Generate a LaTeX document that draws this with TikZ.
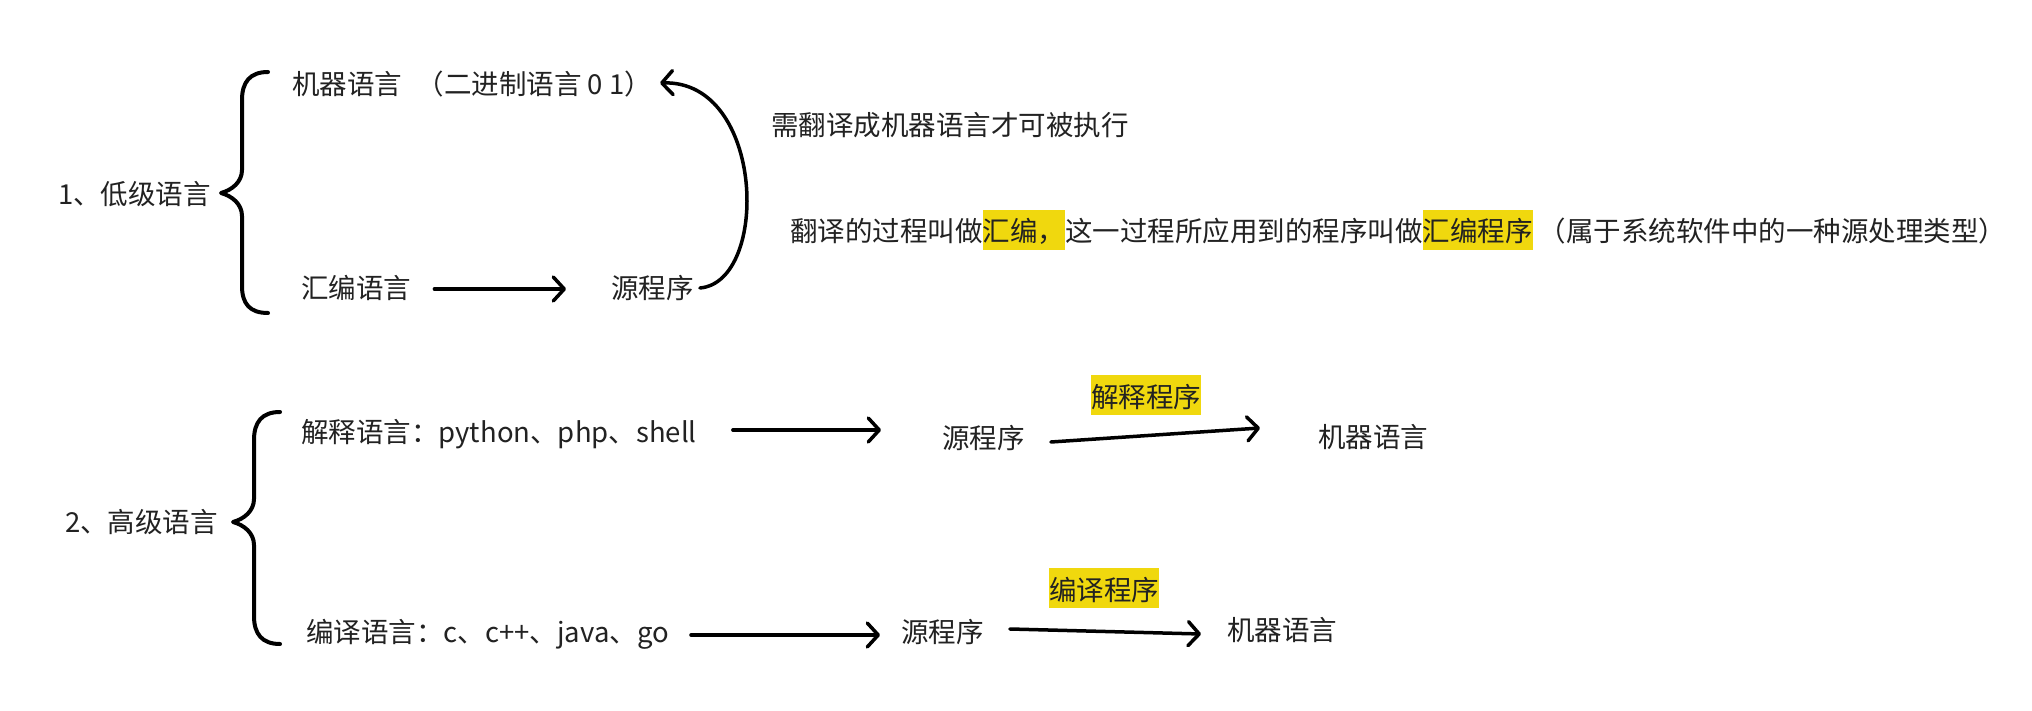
\documentclass[tikz,border=0pt]{standalone}
\usepackage{fontspec}
\setmainfont{Noto Sans CJK SC}
\usetikzlibrary{arrows.meta}
\definecolor{hly}{HTML}{F0D80E}
\definecolor{ink}{HTML}{222222}
\newcommand\hlbox[1]{{\setlength{\fboxsep}{0pt}\colorbox{hly}{\rule[-0.3em]{0pt}{1.48em}#1}}}
\begin{document}
\begin{tikzpicture}[x=1pt,y=-1pt,
  txt/.style={anchor=base west, inner sep=0pt, text=ink, font=\fontsize{27.5}{33}\selectfont},
  hltxt/.style={anchor=base, inner sep=0pt, text=ink, font=\fontsize{27.5}{33}\selectfont},
  arr/.style={line width=3.5pt, line cap=round, -{Straight Barb[round,length=11pt,width=24pt]}},
  bracepath/.style={line width=4pt, line cap=round, line join=round},
]
\useasboundingbox[fill=white] (0,0) rectangle (2032,711);

% ---- low level
\node[txt] (low) at (58,205) {1、低级语言};
\draw[bracepath] (268,72) .. controls (250,72) and (242,82) .. (242,100) -- (242,170)
  .. controls (242,182) and (232,190) .. (221,193)
  .. controls (232,196) and (242,204) .. (242,216) -- (242,286)
  .. controls (242,304) and (250,313) .. (268,313);
\node[txt] (m1) at (292,95) {机器语言\hspace{0.52em}（二进制语言 0 1）};
\node[txt] (asm) at (301,299) {汇编语言};
\node[txt] (src1) at (611,299) {源程序};
\node[txt] (note1) at (771,136) {需翻译成机器语言才可被执行};
\node[txt] (note2) at (790,242) {翻译的过程叫做\hlbox{汇编，}这一过程所应用到的程序叫做\hlbox{汇编程序} （属于系统软件中的一种源处理类型）};

\draw[arr] ([xshift=23pt,yshift=10pt]asm.base east) -- ([xshift=-45pt,yshift=10pt]src1.base west);
\draw[arr] ([xshift=6pt,yshift=11pt]src1.base east) .. controls (770,282) and (765,80) .. ([xshift=8pt,yshift=12pt]m1.base east);

% ---- high level
\node[txt] (high) at (65,532) {2、高级语言};
\draw[bracepath] (280,412) .. controls (262,412) and (254,422) .. (254,440) -- (254,499)
  .. controls (254,511) and (244,519) .. (233,522)
  .. controls (244,525) and (254,533) .. (254,545) -- (254,616)
  .. controls (254,634) and (262,644) .. (280,644);

\node[txt] (interp) at (301,442) {解释语言：python、php、shell};
\node[txt] (src2) at (942,448) {源程序};
\node[txt] (mach2) at (1318,447) {机器语言};
\node[hltxt] (lab2) at (1146,407) {\hlbox{解释程序}};

\node[txt] (comp) at (306,642) {编译语言：c、c++、java、go};
\node[txt] (src3) at (901,642) {源程序};
\node[txt] (mach3) at (1227,640) {机器语言};
\node[hltxt] (lab3) at (1104,600) {\hlbox{编译程序}};

\draw[arr] ([xshift=36pt,yshift=12pt]interp.base east) -- ([xshift=-61pt,yshift=18pt]src2.base west);
\draw[arr] ([xshift=26pt,yshift=6pt]src2.base east) -- ([xshift=-58pt,yshift=19pt]mach2.base west);
\draw[arr] ([xshift=22pt,yshift=7pt]comp.base east) -- ([xshift=-21pt,yshift=7pt]src3.base west);
\draw[arr] ([xshift=26pt,yshift=13pt]src3.base east) -- ([xshift=-26pt,yshift=6pt]mach3.base west);
\end{tikzpicture}
\end{document}
